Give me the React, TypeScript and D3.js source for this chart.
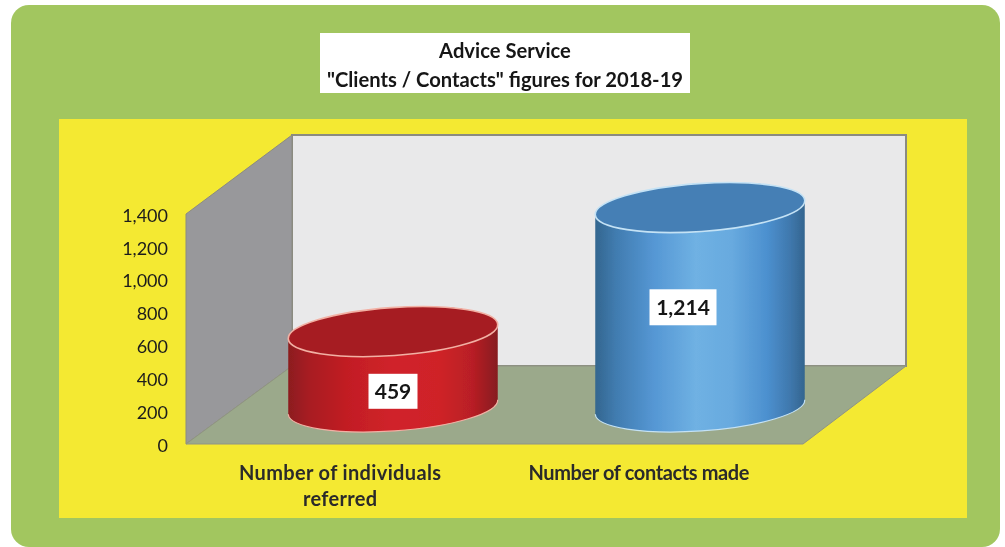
import { useEffect, useRef } from 'react';
import * as d3 from 'd3';

const categories = ['Number of individuals referred', 'Number of contacts made'];
const values = [459, 1214];
const yTicks = [0, 200, 400, 600, 800, 1000, 1200, 1400];
const titleLines = ['Advice Service', '"Clients / Contacts" figures for 2018-19'];
const categoryLines = [['Number of individuals', 'referred'], ['Number of contacts made']];

const width = 1005;
const height = 547;
const font = 'Lato, Carlito, "Open Sans", sans-serif';

// floor / wall corners of the fake 3D box
const wallX = 292;
const wallRight = 906;
const wallTop = 135;
const wallBottom = 366;
const frontLeft = 186;
const frontRight = 803;
const frontBottom = 444;
const frontTop = 214;

const tilt = -4; // degrees, the ellipses lean up to the right
const baseY = 407;
const ry = 24;

const redStops = [
    [0, '#8c1a1f'], [0.1, '#a81d22'], [0.28, '#c21e24'], [0.5, '#d0222a'],
    [0.72, '#cf2228'], [0.88, '#b81f25'], [1, '#861a1f']
];
const blueStops = [
    [0, '#33668f'], [0.1, '#417cb0'], [0.28, '#5597d4'], [0.48, '#6fb1e3'],
    [0.65, '#68aadf'], [0.82, '#4c90cf'], [0.93, '#3f78ad'], [1, '#34658f']
];
const tops = ['#a61f23', '#457fb5'];
const rims = ['#f2b0a4', '#c4e2f5'];
const labelShift = [[0, 22], [-17, 0]];
const labelSize = [[49, 35], [67, 36]];
const labelX = [340, 639];
const labelWidths = [[202, 74], [221]]; // measured widths of the axis label lines

export default function App() {
    const svgRef = useRef<SVGSVGElement>(null);

    useEffect(() => {
        if (!svgRef.current) return;
        const svg = d3.select(svgRef.current);
        svg.selectAll('*').remove();

        const y = d3.scaleLinear().domain([0, 1400]).range([frontBottom, frontTop]);
        const x = d3.scaleBand<string>()
            .domain(categories)
            .range([288, 805])
            .paddingInner(0.316)
            .paddingOuter(0);

        const defs = svg.append('defs');
        const blur = defs.append('filter').attr('id', 'soft');
        blur.append('feGaussianBlur').attr('stdDeviation', 0.45);

        [redStops, blueStops].forEach((stops, i) => {
            const grad = defs.append('linearGradient').attr('id', `side${i}`);
            stops.forEach(s => {
                grad.append('stop').attr('offset', s[0] as number).attr('stop-color', s[1] as string);
            });
        });

        const root = svg.append('g').attr('filter', 'url(#soft)');

        root.append('rect').attr('width', width).attr('height', height).attr('fill', '#fff');
        root.append('rect')
            .attr('x', 11).attr('y', 5).attr('width', 989).attr('height', 542).attr('rx', 18)
            .attr('fill', '#a2c65f');
        root.append('rect')
            .attr('x', 59).attr('y', 119).attr('width', 908).attr('height', 399)
            .attr('fill', '#f4e933');

        // box
        const poly = d3.line();
        root.append('path')
            .attr('d', poly([[wallX, wallTop], [wallRight, wallTop], [wallRight, wallBottom], [wallX, wallBottom]]) + 'Z')
            .attr('fill', '#e9e9ea').attr('stroke', '#8b8b80').attr('stroke-width', 2);
        root.append('path')
            .attr('d', poly([[frontLeft, frontTop], [wallX, wallTop], [wallX, wallBottom], [frontLeft, frontBottom]]) + 'Z')
            .attr('fill', '#98989b').attr('stroke', '#8b8b80').attr('stroke-width', 1);
        root.append('path')
            .attr('d', poly([[frontLeft, frontBottom], [wallX, wallBottom], [wallRight, wallBottom], [frontRight, frontBottom]]) + 'Z')
            .attr('fill', '#9ba98b').attr('stroke', '#8f9484').attr('stroke-width', 1);

        // cylinders
        const dx = Math.cos(tilt * Math.PI / 180);
        const dy = Math.sin(tilt * Math.PI / 180);
        categories.forEach((c, i) => {
            const rx = x.bandwidth() / 2;
            const cx = x(c)! + rx;
            const h = y(0) - y(values[i]);
            const topY = baseY - h;
            const lx = cx - rx * dx, rxx = cx + rx * dx;
            const ly = -rx * dy, ryy = rx * dy;
            const arc = `${rx} ${ry} ${tilt}`;

            root.append('path')
                .attr('d', `M${lx},${topY + ly}L${lx},${baseY + ly}A${arc} 0 0 ${rxx},${baseY + ryy}L${rxx},${topY + ryy}A${arc} 0 0 ${lx},${topY + ly}Z`)
                .attr('fill', `url(#side${i})`);
            root.append('path')
                .attr('d', `M${lx},${baseY + ly}A${arc} 0 0 ${rxx},${baseY + ryy}`)
                .attr('fill', 'none').attr('stroke', rims[i]).attr('stroke-width', 1.2);
            root.append('ellipse')
                .attr('rx', rx).attr('ry', ry)
                .attr('transform', `translate(${cx},${topY}) rotate(${tilt})`)
                .attr('fill', tops[i]).attr('stroke', rims[i]).attr('stroke-width', 1.6);

            const [w, lh] = labelSize[i];
            const mx = cx + labelShift[i][0];
            const my = topY + h / 2 + labelShift[i][1];
            root.append('rect')
                .attr('x', mx - w / 2).attr('y', my - lh / 2).attr('width', w).attr('height', lh)
                .attr('fill', '#fff');
            root.append('text')
                .attr('x', mx).attr('y', my)
                .attr('dy', '0.35em')
                .attr('text-anchor', 'middle')
                .style('font', `bold 21px ${font}`)
                .attr('fill', '#151515')
                .text(d3.format(',')(values[i]));
        });

        // y axis
        const axis = root.append('g')
            .attr('transform', `translate(${frontLeft - 18},1.5)`)
            .call(d3.axisLeft(y).tickValues(yTicks).tickFormat(d3.format(',') as any).tickSize(0).tickPadding(0));
        axis.select('.domain').remove();
        axis.selectAll('text')
            .style('font', `18px ${font}`)
            .attr('fill', '#1c1c1c');

        // category labels
        categoryLines.forEach((lines, i) => {
            lines.forEach((line, j) => {
                root.append('text')
                    .attr('x', labelX[i]).attr('y', 480 + j * 26)
                    .attr('text-anchor', 'middle')
                    .attr('textLength', labelWidths[i][j])
                    .style('font', `bold 20px ${font}`)
                    .attr('fill', '#2b2b2b')
                    .text(line);
            });
        });

        // title
        root.append('rect')
            .attr('x', 320).attr('y', 33).attr('width', 370).attr('height', 60)
            .attr('fill', '#fff');
        titleLines.forEach((line, j) => {
            root.append('text')
                .attr('x', 505).attr('y', 58 + j * 29)
                .attr('text-anchor', 'middle')
                .style('font', `bold 20.2px ${font}`)
                .attr('fill', '#151515')
                .text(line);
        });
    }, []);

    return (
        <svg
            ref={svgRef}
            width={width}
            height={height}
            style={{ position: 'absolute', left: 0, top: 0, display: 'block' }}
        />
    );
}
